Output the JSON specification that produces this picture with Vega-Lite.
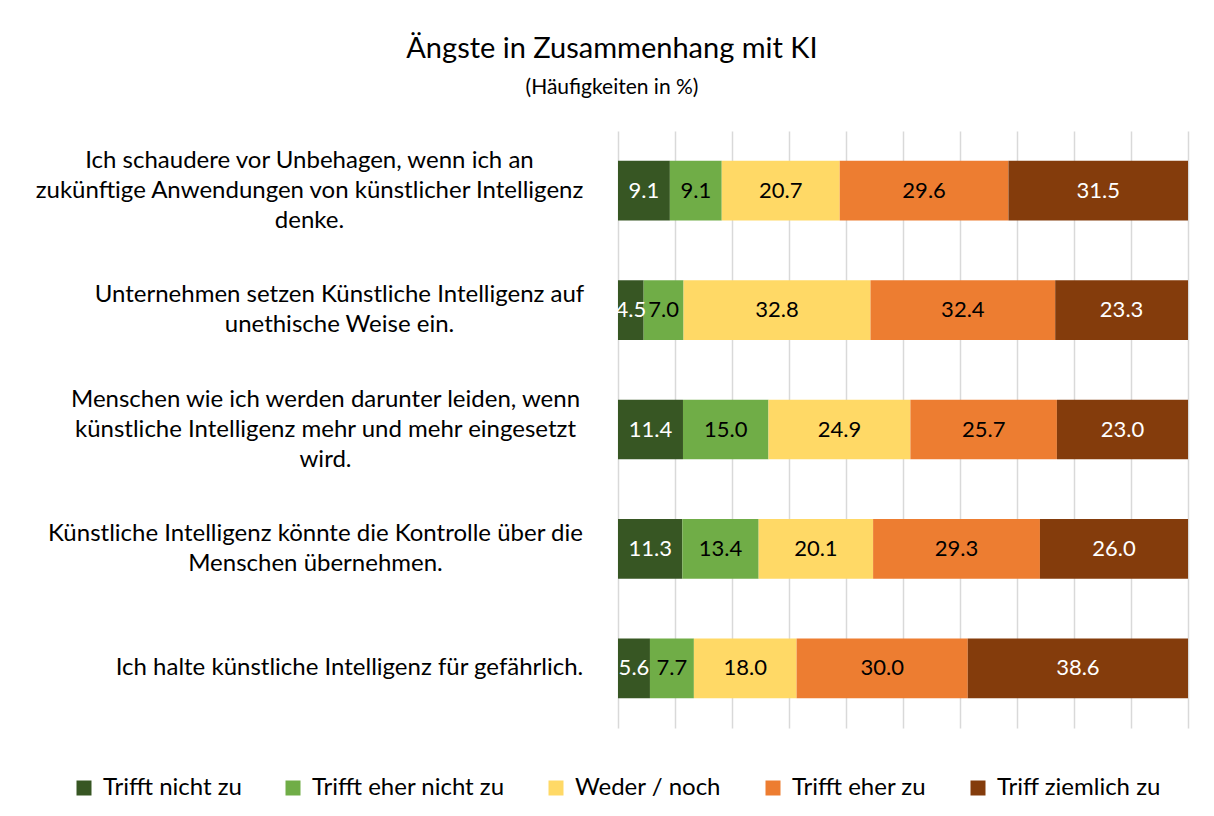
{
  "$schema": "https://vega.github.io/schema/vega-lite/v6.json",
  "autosize": {"type": "none"},
  "width": 570,
  "height": 597,
  "padding": {"left": 618, "top": 131, "right": 26, "bottom": 88},
  "background": "white",
  "config": {"view": {"stroke": null}, "font": "Lato"},
  "title": {
    "text": "Ängste in Zusammenhang mit KI",
    "subtitle": "(Häufigkeiten in %)",
    "anchor": "middle",
    "frame": "group",
    "dx": -291,
    "offset": 33,
    "fontSize": 29,
    "fontWeight": "normal",
    "font": "Lato",
    "color": "#000000",
    "subtitleFontSize": 21,
    "subtitleFont": "Lato",
    "subtitleColor": "#000000",
    "subtitlePadding": 13
  },
  "data": {
    "values": [
      {"q": "Ich schaudere vor Unbehagen, wenn ich an|zukünftige Anwendungen von künstlicher Intelligenz|denke.", "cat": "Trifft nicht zu", "rank": 1, "value": 9.1},
      {"q": "Ich schaudere vor Unbehagen, wenn ich an|zukünftige Anwendungen von künstlicher Intelligenz|denke.", "cat": "Trifft eher nicht zu", "rank": 2, "value": 9.1},
      {"q": "Ich schaudere vor Unbehagen, wenn ich an|zukünftige Anwendungen von künstlicher Intelligenz|denke.", "cat": "Weder / noch", "rank": 3, "value": 20.7},
      {"q": "Ich schaudere vor Unbehagen, wenn ich an|zukünftige Anwendungen von künstlicher Intelligenz|denke.", "cat": "Trifft eher zu", "rank": 4, "value": 29.6},
      {"q": "Ich schaudere vor Unbehagen, wenn ich an|zukünftige Anwendungen von künstlicher Intelligenz|denke.", "cat": "Triff ziemlich zu", "rank": 5, "value": 31.5},
      {"q": "Unternehmen setzen Künstliche Intelligenz auf|unethische Weise ein.", "cat": "Trifft nicht zu", "rank": 1, "value": 4.5},
      {"q": "Unternehmen setzen Künstliche Intelligenz auf|unethische Weise ein.", "cat": "Trifft eher nicht zu", "rank": 2, "value": 7.0},
      {"q": "Unternehmen setzen Künstliche Intelligenz auf|unethische Weise ein.", "cat": "Weder / noch", "rank": 3, "value": 32.8},
      {"q": "Unternehmen setzen Künstliche Intelligenz auf|unethische Weise ein.", "cat": "Trifft eher zu", "rank": 4, "value": 32.4},
      {"q": "Unternehmen setzen Künstliche Intelligenz auf|unethische Weise ein.", "cat": "Triff ziemlich zu", "rank": 5, "value": 23.3},
      {"q": "Menschen wie ich werden darunter leiden, wenn|künstliche Intelligenz mehr und mehr eingesetzt|wird.", "cat": "Trifft nicht zu", "rank": 1, "value": 11.4},
      {"q": "Menschen wie ich werden darunter leiden, wenn|künstliche Intelligenz mehr und mehr eingesetzt|wird.", "cat": "Trifft eher nicht zu", "rank": 2, "value": 15.0},
      {"q": "Menschen wie ich werden darunter leiden, wenn|künstliche Intelligenz mehr und mehr eingesetzt|wird.", "cat": "Weder / noch", "rank": 3, "value": 24.9},
      {"q": "Menschen wie ich werden darunter leiden, wenn|künstliche Intelligenz mehr und mehr eingesetzt|wird.", "cat": "Trifft eher zu", "rank": 4, "value": 25.7},
      {"q": "Menschen wie ich werden darunter leiden, wenn|künstliche Intelligenz mehr und mehr eingesetzt|wird.", "cat": "Triff ziemlich zu", "rank": 5, "value": 23.0},
      {"q": "Künstliche Intelligenz könnte die Kontrolle über die|Menschen übernehmen.", "cat": "Trifft nicht zu", "rank": 1, "value": 11.3},
      {"q": "Künstliche Intelligenz könnte die Kontrolle über die|Menschen übernehmen.", "cat": "Trifft eher nicht zu", "rank": 2, "value": 13.4},
      {"q": "Künstliche Intelligenz könnte die Kontrolle über die|Menschen übernehmen.", "cat": "Weder / noch", "rank": 3, "value": 20.1},
      {"q": "Künstliche Intelligenz könnte die Kontrolle über die|Menschen übernehmen.", "cat": "Trifft eher zu", "rank": 4, "value": 29.3},
      {"q": "Künstliche Intelligenz könnte die Kontrolle über die|Menschen übernehmen.", "cat": "Triff ziemlich zu", "rank": 5, "value": 26.0},
      {"q": "Ich halte künstliche Intelligenz für gefährlich.", "cat": "Trifft nicht zu", "rank": 1, "value": 5.6},
      {"q": "Ich halte künstliche Intelligenz für gefährlich.", "cat": "Trifft eher nicht zu", "rank": 2, "value": 7.7},
      {"q": "Ich halte künstliche Intelligenz für gefährlich.", "cat": "Weder / noch", "rank": 3, "value": 18.0},
      {"q": "Ich halte künstliche Intelligenz für gefährlich.", "cat": "Trifft eher zu", "rank": 4, "value": 30.0},
      {"q": "Ich halte künstliche Intelligenz für gefährlich.", "cat": "Triff ziemlich zu", "rank": 5, "value": 38.6}
    ]
  },
  "encoding": {
    "y": {
      "field": "q",
      "type": "nominal",
      "sort": null,
      "title": null,
      "scale": {"paddingInner": 0.5, "paddingOuter": 0.25},
      "axis": {
        "domain": false,
        "ticks": false,
        "grid": false,
        "labelExpr": "split(datum.label, '|')",
        "labelFont": "Lato",
        "labelFontSize": 24,
        "labelColor": "#000000",
        "labelLimit": 700,
        "labelLineHeight": 30,
        "labelAlign": "center",
        "labelBaseline": "middle",
        "labelOffset": {
          "condition": [
            {"test": "indexof(datum.value, 'Ich schaudere') == 0", "value": -30},
            {"test": "indexof(datum.value, 'Menschen wie') == 0", "value": -30},
            {"test": "indexof(datum.value, 'Unternehmen') == 0", "value": -15},
            {"test": "indexof(datum.value, 'Künstliche Intelligenz könnte') == 0", "value": -15}
          ],
          "value": 0
        },
        "labelPadding": {
          "condition": [
            {"test": "indexof(datum.value, 'Ich schaudere') == 0", "value": 309},
            {"test": "indexof(datum.value, 'Unternehmen') == 0", "value": 279},
            {"test": "indexof(datum.value, 'Menschen wie') == 0", "value": 293},
            {"test": "indexof(datum.value, 'Künstliche Intelligenz könnte') == 0", "value": 303}
          ],
          "value": 269
        }
      }
    },
    "x": {
      "field": "value",
      "type": "quantitative",
      "stack": "normalize",
      "title": null,
      "scale": {"domain": [0, 1], "nice": false},
      "axis": {
        "values": [0, 0.1, 0.2, 0.3, 0.4, 0.5, 0.6, 0.7, 0.8, 0.9, 1],
        "domain": false,
        "ticks": false,
        "labels": false,
        "grid": true,
        "gridColor": "#d9d9d9",
        "gridWidth": 1.5
      }
    },
    "order": {"field": "rank", "type": "quantitative"}
  },
  "layer": [
    {
      "mark": {"type": "bar"},
      "encoding": {
        "color": {
          "field": "cat",
          "type": "nominal",
          "scale": {
            "domain": ["Trifft nicht zu", "Trifft eher nicht zu", "Weder / noch", "Trifft eher zu", "Triff ziemlich zu"],
            "range": ["#375623", "#70ad47", "#ffd966", "#ed7d31", "#843c0c"]
          },
          "legend": {
            "title": null,
            "orient": "none",
            "legendX": -546,
            "legendY": 645,
            "direction": "horizontal",
            "columns": 5,
            "columnPadding": 39,
            "padding": 0,
            "symbolType": "square",
            "symbolSize": 225,
            "symbolStrokeWidth": 0,
            "labelFont": "Lato",
            "labelFontSize": 24,
            "labelColor": "#000000",
            "labelOffset": 7,
            "labelLimit": 400
          }
        }
      }
    },
    {
      "mark": {"type": "text", "font": "Lato", "fontSize": 22, "baseline": "middle", "align": "center"},
      "encoding": {
        "x": {"field": "value", "type": "quantitative", "stack": "normalize", "bandPosition": 0.5},
        "text": {"field": "value", "type": "quantitative", "format": ".1f"},
        "color": {
          "condition": {"test": "datum.cat == 'Trifft nicht zu' || datum.cat == 'Triff ziemlich zu'", "value": "#ffffff"},
          "value": "#000000"
        }
      }
    }
  ]
}
